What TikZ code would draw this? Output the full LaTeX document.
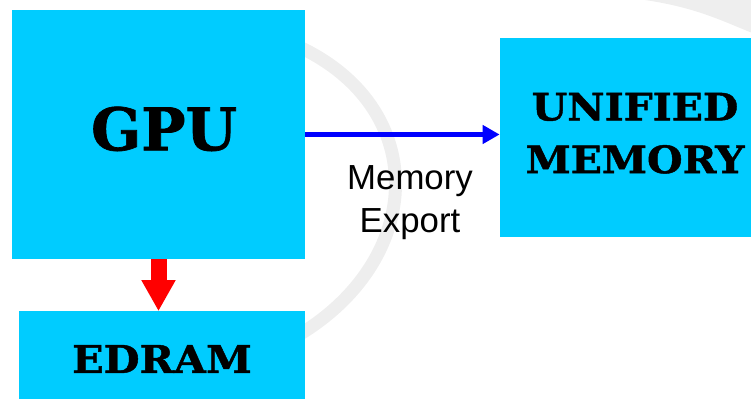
\documentclass[tikz,border=0pt]{standalone}
\usepackage{fontspec}
\setsansfont{Liberation Sans}
\newfontfamily\blockfont{DejaVu Serif}[BoldFeatures={FakeBold=1.2}]
\newfontfamily\wideblockfont{DejaVu Serif}[BoldFeatures={FakeBold=1.2,FakeStretch=1.08}]
\usepackage{tikz}
\usetikzlibrary{arrows.meta,positioning,calc}
\definecolor{Chip}{HTML}{00CCFF}
\definecolor{Swoosh}{HTML}{EEEEEE}

\begin{document}
\begin{tikzpicture}[
  unit/.style={fill=Chip,inner sep=0pt,align=center},
  export/.style={-{Triangle[length=0.34cm,width=0.36cm]},line width=0.1cm,draw=blue},
  local/.style={-{Triangle[length=0.62cm,width=0.64cm]},line width=0.32cm,draw=red}
]
\useasboundingbox (0,0) rectangle (15.02,-7.98);
\clip (0,0) rectangle (15.02,-7.98);
% faint backdrop
\draw[Swoosh,line width=0.26cm,line cap=round] (5.9,-0.9) .. controls (8.8,-2.2) and (8.5,-5.6) .. (5.4,-7.0);
\fill[Swoosh] (12.9,0) .. controls (13.9,-0.15) and (14.4,-0.4) .. (15.02,-0.65) -- (15.02,0) -- cycle;

\node[unit,minimum width=5.86cm,minimum height=4.98cm,font=\blockfont\bfseries\fontsize{33.5}{40}\selectfont] (gpu) at (3.17,-2.69) {\hspace*{0.22cm}GPU\raisebox{0pt}[0pt][0.24cm]{}};
\node[unit,minimum width=5.4cm,minimum height=3.98cm,font=\wideblockfont\bfseries\fontsize{21.5}{30}\selectfont] (unified) at (12.7,-2.75) {UNIFIED\\MEMORY\raisebox{0pt}[0pt][0.18cm]{}};
\node[unit,minimum width=5.72cm,minimum height=1.9cm,font=\wideblockfont\bfseries\fontsize{21.8}{26}\selectfont] (edram) at (3.24,-7.18) {EDRAM};
\node[font=\sffamily\fontsize{19.8}{24.4}\selectfont,align=center,inner sep=0pt] (exportlbl) at (8.2,-4.05) {Memory\\Export};

\draw[export] (gpu.east) -- (gpu.east -| unified.west);
\draw[local] (gpu.south) -- (gpu.south |- edram.north);
\end{tikzpicture}
\end{document}
